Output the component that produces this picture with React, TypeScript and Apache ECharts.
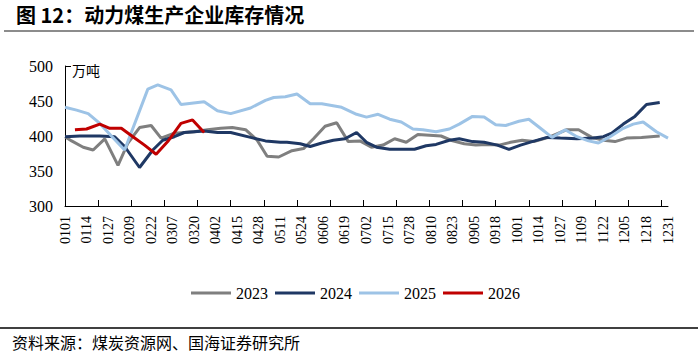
import React, { useEffect, useRef } from "react";
import * as echarts from "echarts";

// Axis categories: every day of the year as MMDD
const monthLengths = [31, 28, 31, 30, 31, 30, 31, 31, 30, 31, 30, 31];
const categories: string[] = [];
monthLengths.forEach((len, m) => {
  for (let d = 1; d <= len; d++) {
    categories.push(String(m + 1).padStart(2, "0") + String(d).padStart(2, "0"));
  }
});

const yTicks = { min: 300, max: 500, interval: 50 };

const dates2023 = ["0101","0105","0112","0118","0125","0202","0208","0215","0222","0228","0308","0320","0328","0405","0412","0420","0427","0503","0510","0518","0525","0531","0607","0614","0621","0628","0705","0712","0719","0726","0802","0809","0816","0823","0830","0906","0913","0920","0927","1004","1011","1021","1031","1107","1115","1122","1129","1206","1215","1226"];
const values2023 = [399,393,384,380,396,358,390,412,415,397,404,406,409,411,412,409,394,371,370,379,382,396,414,419,392,393,384,387,396,391,402,401,400,393,389,387,388,387,391,394,392,399,409,409,398,394,392,397,398,400];

const dates2024 = ["0101","0110","0122","0131","0206","0215","0223","0301","0308","0314","0326","0403","0411","0423","0502","0511","0515","0523","0529","0605","0612","0619","0626","0702","0708","0716","0724","0731","0807","0813","0821","0827","0904","0911","0919","0926","1003","1010","1019","1027","1106","1116","1122","1127","1204","1211","1218","1226"];
const values2024 = [399,400,400,399,385,355,380,394,399,405,407,405,405,398,393,391,391,389,385,390,394,396,405,391,384,381,381,381,386,388,394,396,392,391,387,381,387,392,398,397,396,397,399,404,417,428,445,448];

const dates2025 = ["0101","0108","0115","0122","0129","0206","0220","0226","0306","0312","0326","0403","0411","0423","0502","0507","0514","0521","0529","0605","0617","0626","0702","0709","0716","0723","0730","0805","0813","0821","0827","0904","0911","0918","0924","1002","1008","1015","1022","1030","1106","1113","1119","1126","1204","1210","1216","1224","1231"];
const values2025 = [441,437,432,418,400,380,467,473,466,445,449,436,432,440,451,455,456,460,446,446,441,431,427,431,424,420,410,409,406,410,417,428,427,416,415,421,424,411,398,409,399,393,390,399,411,417,420,406,397];

const dates2026 = ["0107","0114","0122","0128","0204","0211","0218","0225","0304","0312","0319","0326"];
const values2026 = [409,410,417,411,411,399,387,374,392,418,423,405];

const seriesDefs = [
  { name: "2023", dates: dates2023, values: values2023, color: "#7f7f7f" },
  { name: "2024", dates: dates2024, values: values2024, color: "#1f3864" },
  { name: "2025", dates: dates2025, values: values2025, color: "#9dc3e6" },
  { name: "2026", dates: dates2026, values: values2026, color: "#c00000" },
];

const serif = "Liberation Serif";
const cjk = "Noto Sans CJK SC";

export default function App() {
  const ref = useRef<HTMLDivElement>(null);
  useEffect(() => {
    if (!ref.current) return;
    const chart = echarts.init(ref.current, null, { renderer: "svg" });
    chart.setOption({
      animation: false,
      backgroundColor: "#ffffff",
      grid: { left: 65, right: 30, top: 66, bottom: 148 },
      legend: {
        left: 186,
        top: 280,
        icon: "rect",
        itemWidth: 40,
        itemHeight: 3,
        itemGap: 7,
        textStyle: { fontFamily: serif, fontSize: 16, color: "#000" },
        data: seriesDefs.map((s) => s.name),
      },
      xAxis: {
        type: "category",
        data: categories,
        boundaryGap: false,
        axisLine: { lineStyle: { color: "#000", width: 1 } },
        axisTick: { show: true, inside: true, length: 6, interval: 19, lineStyle: { color: "#000" } },
        axisLabel: {
          interval: 12,
          rotate: 90,
          margin: 10,
          fontFamily: serif,
          fontSize: 14,
          color: "#000",
        },
        splitLine: { show: false },
      },
      yAxis: {
        type: "value",
        min: yTicks.min,
        max: yTicks.max,
        interval: yTicks.interval,
        axisLine: { show: true, lineStyle: { color: "#000", width: 1 } },
        axisTick: { show: false },
        axisLabel: { fontFamily: serif, fontSize: 16, color: "#000", margin: 12 },
        splitLine: { show: false },
      },
      series: seriesDefs.map((s) => ({
        name: s.name,
        type: "line",
        showSymbol: false,
        symbol: "none",
        color: s.color,
        lineStyle: { color: s.color, width: 3 },
        data: s.dates.map((d, i) => [categories.indexOf(d), s.values[i]]),
        z: s.name === "2026" ? 5 : 3,
      })),
      graphic: [
        {
          type: "text",
          left: 16,
          top: 4,
          style: {
            text: "图 12：动力煤生产企业库存情况",
            fontFamily: cjk,
            fontSize: 20,
            fontWeight: "bold",
            fill: "#000",
          },
        },
        {
          type: "rect",
          shape: { x: 4, y: 30, width: 690, height: 2 },
          style: { fill: "#8c8c8c" },
        },
        {
          type: "line",
          shape: { x1: 65, y1: 66.5, x2: 71, y2: 66.5 },
          style: { stroke: "#000", lineWidth: 1 },
        },
        {
          type: "text",
          left: 72,
          top: 63,
          style: {
            text: "万吨",
            fontFamily: cjk,
            fontSize: 14,
            fill: "#000",
          },
        },
        {
          type: "rect",
          shape: { x: 0, y: 327, width: 698, height: 2 },
          style: { fill: "#404040" },
        },
        {
          type: "text",
          left: 12,
          top: 334,
          style: {
            text: "资料来源：煤炭资源网、国海证券研究所",
            fontFamily: cjk,
            fontSize: 16,
            fill: "#000",
          },
        },
      ],
    });
    return () => chart.dispose();
  }, []);
  return (
    <div style={{ position: "fixed", left: 0, top: 0, width: 698, height: 354, background: "#fff" }}>
      <div ref={ref} style={{ width: 698, height: 354 }} />
    </div>
  );
}
